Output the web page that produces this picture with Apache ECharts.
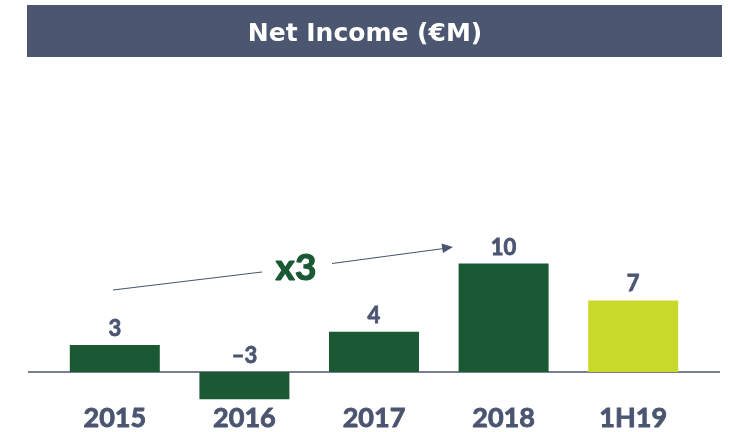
<!DOCTYPE html>
<html>
<head>
<meta charset="utf-8">
<script src="https://cdn.jsdelivr.net/npm/echarts@6/dist/echarts.min.js"></script>
<style>
  html, body { margin: 0; padding: 0; background: #ffffff; }
  #chart { width: 730px; height: 432px; }
</style>
</head>
<body>
<div id="chart"></div>
<script>
// data
const categories = ["2015", "2016", "2017", "2018", "1H19"];
const netIncome = [2.5, -2.5, 3.7, 10, 6.6];
const valueLabels = ["3", "–3", "4", "10", "7"];
const barColors = ["#1b5834", "#1b5834", "#1b5834", "#1b5834", "#c9d92b"];

const slate = "#4b5571";
const chart = echarts.init(document.getElementById("chart"));

const option = {
  animation: false,
  title: {
    text: "Net Income (€M)",
    left: "center",
    top: 17,
    textStyle: {
      color: "#ffffff",
      fontFamily: "DejaVu Sans",
      fontWeight: "bold",
      fontSize: 25,
    },
  },
  grid: { left: 50, right: 32, top: 155, bottom: 24 },
  xAxis: {
    type: "category",
    data: categories,
    axisLine: { show: false, onZero: false },
    axisTick: { show: false },
    axisLabel: {
      margin: 0,
      color: slate,
      fontFamily: "Lato",
      fontWeight: "bold",
      fontSize: 27,
      textBorderColor: slate,
      textBorderWidth: 0.9,
    },
  },
  yAxis: {
    type: "value",
    min: -3,
    max: 20,
    show: false,
    splitLine: { show: false },
  },
  series: [
    {
      type: "bar",
      barWidth: 90,
      data: netIncome.map((v, i) => ({
        value: v,
        itemStyle: { color: barColors[i] },
      })),
      label: {
        show: true,
        position: "top",
        distance: 5,
        color: slate,
        fontFamily: "Lato",
        fontWeight: "bold",
        fontSize: 22,
        textBorderColor: slate,
        textBorderWidth: 0.8,
        formatter: (p) => valueLabels[p.dataIndex],
      },
    },
  ],
};

chart.setOption(option);

// zero line runs past the grid, title band and growth arrow are decorations
const zeroY = chart.convertToPixel({ yAxisIndex: 0 }, 0);
chart.setOption({
  graphic: [
    {
      type: "rect",
      z: -1,
      shape: { x: 27, y: 5, width: 695, height: 52 },
      style: { fill: "#4b5670" },
    },
    {
      type: "line",
      shape: { x1: 28, y1: zeroY, x2: 720, y2: zeroY },
      style: { stroke: slate, lineWidth: 1.5 },
    },
    {
      type: "line",
      shape: { x1: 113, y1: 290, x2: 262, y2: 272 },
      style: { stroke: slate, lineWidth: 1.2 },
    },
    {
      type: "line",
      shape: { x1: 332, y1: 263.5, x2: 444, y2: 248.5 },
      style: { stroke: slate, lineWidth: 1.2 },
    },
    {
      type: "polygon",
      shape: { points: [[453, 247], [441.5, 243.5], [443, 253]] },
      style: { fill: slate },
    },
    {
      type: "text",
      x: 296,
      y: 268,
      style: {
        text: "x3",
        fill: "#1b5834",
        stroke: "#1b5834",
        lineWidth: 1.2,
        font: "bold 37px Lato",
        align: "center",
        verticalAlign: "middle",
      },
    },
  ],
});
</script>
</body>
</html>
